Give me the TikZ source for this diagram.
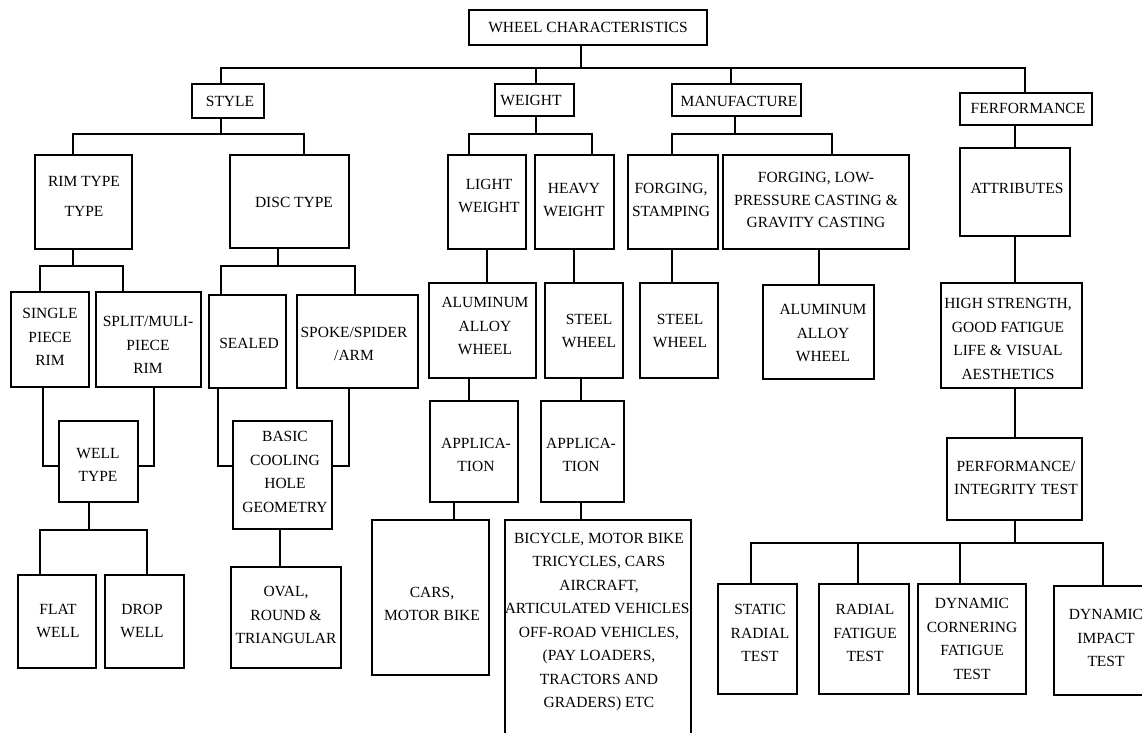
\documentclass[tikz,border=0pt]{standalone}
\usepackage{fontspec}
\setmainfont{Liberation Serif}
\usetikzlibrary{fit}
\begin{document}
\begin{tikzpicture}[x=1pt,y=-1pt,
  box/.style={draw, line width=1.3pt, inner sep=0pt, outer sep=0pt},
  lbl/.style={align=center, font=\fontsize{15.5}{23.5}\selectfont, inner sep=0pt},
  conn/.style={line width=1.3pt}]
\newcommand\bx[5]{\node[box, fit={(#2,#3) (#4,#5)}] (#1) {};}
\useasboundingbox (0,0) rectangle (1142,732);
\fill[white] (0,0) rectangle (1142,732);
% boxes
\bx{wc}{469}{10}{707}{45}
\bx{style}{192}{84}{264}{118}
\bx{weight}{495}{84}{574}{116}
\bx{manuf}{672}{84}{801}{116}
\bx{ferf}{960}{93}{1092}{125}
\bx{rim}{35}{155}{132}{249}
\bx{disc}{230}{155}{349}{248}
\bx{light}{448}{155}{526}{249}
\bx{heavy}{535}{155}{614}{249}
\bx{fs}{628}{155}{718}{249}
\bx{flp}{723}{155}{909}{249}
\bx{attr}{960}{148}{1070}{236}
\bx{single}{11}{292}{89}{387}
\bx{split}{96}{292}{201}{387}
\bx{sealed}{209}{295}{286}{388}
\bx{spoke}{297}{295}{418}{388}
\bx{well}{59}{421}{138}{502}
\bx{basic}{233}{421}{332}{529}
\bx{flat}{18}{575}{96}{668}
\bx{drop}{105}{575}{184}{668}
\bx{oval}{231}{567}{341}{668}
\bx{alua}{429}{283}{536}{378}
\bx{steela}{545}{283}{623}{378}
\bx{steelb}{640}{283}{718}{378}
\bx{alub}{763}{285}{874}{379}
\bx{appa}{430}{401}{518}{502}
\bx{appb}{541}{401}{624}{502}
\bx{cars}{372}{520}{489}{675}
\bx{bike}{505}{520}{691}{760}
\bx{high}{941}{283}{1082}{388}
\bx{perf}{947}{438}{1082}{520}
\bx{static}{718}{584}{797}{694}
\bx{radial}{819}{584}{909}{694}
\bx{dync}{918}{584}{1026}{694}
\bx{dyni}{1054}{586}{1160}{695}
% labels
\node[lbl] (t-wc) at (588,27) {WHEEL CHARACTERISTICS};
\node[lbl] (t-style) at (230,101) {STYLE};
\node[lbl] (t-weight) at (531,100) {WEIGHT};
\node[lbl] (t-manuf) at (739,101) {MANUFACTURE};
\node[lbl] (t-ferf) at (1028,108) {FERFORMANCE};
\node[lbl] (t-rim) at (84,196) {RIM TYPE\\[6.5pt]TYPE};
\node[lbl] (t-disc) at (294,202) {DISC TYPE};
\node[lbl] (t-light) at (489,196) {LIGHT\\WEIGHT};
\node[lbl] (t-heavy) at (574,200) {HEAVY\\WEIGHT};
\node[lbl] (t-fs) at (671,200) {FORGING,\\STAMPING};
\node[lbl, font=\fontsize{15.5}{22.5}\selectfont] (t-flp) at (816,200) {FORGING, LOW-\\PRESSURE CASTING \&\\GRAVITY CASTING};
\node[lbl] (t-attr) at (1017,188) {ATTRIBUTES};
\node[lbl] (t-single) at (50,337) {SINGLE\\PIECE\\RIM};
\node[lbl] (t-split) at (148,345) {SPLIT/MULI-\\PIECE\\RIM};
\node[lbl] (t-sealed) at (249,343) {SEALED};
\node[lbl] (t-spoke) at (354,344) {SPOKE/SPIDER\\/ARM};
\node[lbl] (t-well) at (98,465) {WELL\\TYPE};
\node[lbl] (t-basic) at (285,472) {BASIC\\COOLING\\HOLE\\GEOMETRY};
\node[lbl] (t-flat) at (58,621) {FLAT\\WELL};
\node[lbl] (t-drop) at (142,621) {DROP\\WELL};
\node[lbl] (t-oval) at (286,615) {OVAL,\\ROUND \&\\TRIANGULAR};
\node[lbl] (t-alua) at (485,326) {ALUMINUM\\ALLOY\\WHEEL};
\node[lbl] (t-steela) at (589,331) {STEEL\\WHEEL};
\node[lbl] (t-steelb) at (680,331) {STEEL\\WHEEL};
\node[lbl] (t-alub) at (823,333) {ALUMINUM\\ALLOY\\WHEEL};
\node[lbl] (t-appa) at (476,455) {APPLICA-\\TION};
\node[lbl] (t-appb) at (581,455) {APPLICA-\\TION};
\node[lbl] (t-cars) at (432,604) {CARS,\\MOTOR BIKE};
\node[lbl] (t-bike) at (599,622) {BICYCLE, MOTOR BIKE\\TRICYCLES, CARS\\AIRCRAFT,\\ARTICULATED VEHICLES,\\OFF-ROAD VEHICLES,\\(PAY LOADERS,\\TRACTORS AND\\GRADERS) ETC};
\node[lbl] (t-high) at (1008,339) {HIGH STRENGTH,\\GOOD FATIGUE\\LIFE \& VISUAL\\AESTHETICS};
\node[lbl] (t-perf) at (1016,478) {PERFORMANCE/\\INTEGRITY TEST};
\node[lbl] (t-static) at (760,633) {STATIC\\RADIAL\\TEST};
\node[lbl] (t-radial) at (865,633) {RADIAL\\FATIGUE\\TEST};
\node[lbl] (t-dync) at (972,639) {DYNAMIC\\CORNERING\\FATIGUE\\TEST};
\node[lbl] (t-dyni) at (1106,638) {DYNAMIC\\IMPACT\\TEST};
% junction coordinates
\coordinate (J0) at (581,68);
\coordinate (Jsty) at (221,68);
\coordinate (Jwt) at (536,68);
\coordinate (Jmf) at (731,68);
\coordinate (Jpf) at (1025,68);
\coordinate (S0) at (221,134);
\coordinate (S1) at (73,134);
\coordinate (S2) at (304,134);
\coordinate (R0) at (73,266);
\coordinate (R1) at (40,266);
\coordinate (R2) at (123,266);
\coordinate (D0) at (278,266);
\coordinate (D1) at (221,266);
\coordinate (D2) at (355,266);
\coordinate (W1) at (43,466);
\coordinate (W2) at (154,466);
\coordinate (F0) at (89,530);
\coordinate (F1) at (40,530);
\coordinate (F2) at (147,530);
\coordinate (B1) at (218,466);
\coordinate (B2) at (349,466);
\coordinate (B3) at (280,548);
\coordinate (Wt0) at (536,134);
\coordinate (Wt1) at (469,134);
\coordinate (Wt2) at (592,134);
\coordinate (M0) at (735,134);
\coordinate (M1) at (672,134);
\coordinate (M2) at (832,134);
\coordinate (V1) at (487,266);
\coordinate (V2) at (574,266);
\coordinate (V3) at (672,266);
\coordinate (V4) at (819,266);
\coordinate (V5) at (469,390);
\coordinate (V6) at (581,390);
\coordinate (V7) at (454,511);
\coordinate (V8) at (581,511);
\coordinate (V9) at (1015,300);
\coordinate (P0) at (1015,543);
\coordinate (P1) at (751,543);
\coordinate (P2) at (858,543);
\coordinate (P3) at (960,543);
\coordinate (P4) at (1103,543);
% connectors
\draw[conn] (wc.south -| J0) -- (J0);
\draw[conn] (style.north -| Jsty) -- (Jsty) -- (Jpf) -- (ferf.north -| Jpf);
\draw[conn] (Jwt) -- (weight.north -| Jwt);
\draw[conn] (Jmf) -- (manuf.north -| Jmf);
\draw[conn] (style.south -| S0) -- (S0);
\draw[conn] (rim.north -| S1) -- (S1) -- (S2) -- (disc.north -| S2);
\draw[conn] (rim.south -| R0) -- (R0);
\draw[conn] (single.north -| R1) -- (R1) -- (R2) -- (split.north -| R2);
\draw[conn] (disc.south -| D0) -- (D0);
\draw[conn] (sealed.north -| D1) -- (D1) -- (D2) -- (spoke.north -| D2);
\draw[conn] (single.south -| W1) -- (W1) -- (well.west |- W1);
\draw[conn] (split.south -| W2) -- (W2) -- (well.east |- W2);
\draw[conn] (well.south -| F0) -- (F0);
\draw[conn] (flat.north -| F1) -- (F1) -- (F2) -- (drop.north -| F2);
\draw[conn] (sealed.south -| B1) -- (B1) -- (basic.west |- B1);
\draw[conn] (spoke.south -| B2) -- (B2) -- (basic.east |- B2);
\draw[conn] (basic.south -| B3) -- (oval.north -| B3);
\draw[conn] (weight.south -| Wt0) -- (Wt0);
\draw[conn] (light.north -| Wt1) -- (Wt1) -- (Wt2) -- (heavy.north -| Wt2);
\draw[conn] (manuf.south -| M0) -- (M0);
\draw[conn] (fs.north -| M1) -- (M1) -- (M2) -- (flp.north -| M2);
\draw[conn] (light.south -| V1) -- (alua.north -| V1);
\draw[conn] (heavy.south -| V2) -- (steela.north -| V2);
\draw[conn] (fs.south -| V3) -- (steelb.north -| V3);
\draw[conn] (flp.south -| V4) -- (alub.north -| V4);
\draw[conn] (alua.south -| V5) -- (appa.north -| V5);
\draw[conn] (steela.south -| V6) -- (appb.north -| V6);
\draw[conn] (appa.south -| V7) -- (cars.north -| V7);
\draw[conn] (appb.south -| V8) -- (bike.north -| V8);
\draw[conn] (ferf.south -| V9) -- (attr.north -| V9);
\draw[conn] (attr.south -| V9) -- (high.north -| V9);
\draw[conn] (high.south -| V9) -- (perf.north -| V9);
\draw[conn] (perf.south -| P0) -- (P0);
\draw[conn] (static.north -| P1) -- (P1) -- (P4) -- (dyni.north -| P4);
\draw[conn] (P2) -- (radial.north -| P2);
\draw[conn] (P3) -- (dync.north -| P3);
\end{tikzpicture}
\end{document}
